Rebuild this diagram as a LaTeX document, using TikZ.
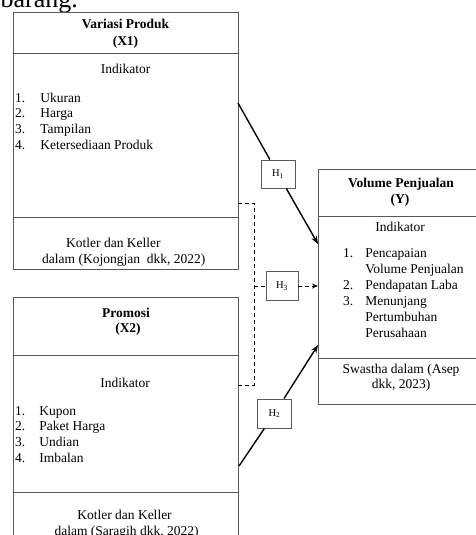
\documentclass[tikz,border=0pt]{standalone}
\usepackage{fontspec}
\setmainfont{Liberation Serif}
\usetikzlibrary{arrows.meta, positioning, calc}

\begin{document}
\begin{tikzpicture}[x=1pt, y=-1pt, >={Stealth[length=8pt, width=6pt]},
            box/.style={draw=black!65, line width=0.9pt, rectangle, inner sep=0pt, anchor=north west},
            hyp/.style={draw=black!65, fill=white, line width=0.9pt, rectangle, inner sep=0pt,
                minimum width=34pt, minimum height=28pt, font=\fontsize{10.5}{12}\selectfont},
            txt/.style={anchor=base, inner sep=0pt, font=\fontsize{13.5}{15.7}\selectfont},
            lst/.style={anchor=base west, inner sep=0pt, font=\fontsize{13.5}{15.7}\selectfont},
            arrow/.style={->, black, line width=1.4pt},
            dashline/.style={black, line width=1pt, dash pattern=on 4pt off 3pt}]

            \useasboundingbox (0,0) rectangle (476,535);

            % text of the page above the figure
            \node[anchor=base east, inner sep=0pt, font=\fontsize{26}{30}\selectfont] (page) at (78,8) {barang.};

            % boxes
            \node[box, minimum width=225pt, minimum height=257pt] (x1) at (13,12) {};
            \node[box, minimum width=225pt, minimum height=270pt] (x2) at (13,297) {};
            \node[box, minimum width=166pt, minimum height=235pt] (y) at (318,169) {};

            \draw[draw=black!65, line width=0.9pt] ($(x1.north west)+(0,41)$) -- ($(x1.north east)+(0,41)$);
            \draw[draw=black!65, line width=0.9pt] ($(x1.north west)+(0,205)$) -- ($(x1.north east)+(0,205)$);
            \draw[draw=black!65, line width=0.9pt] ($(x2.north west)+(0,58)$) -- ($(x2.north east)+(0,58)$);
            \draw[draw=black!65, line width=0.9pt] ($(x2.north west)+(0,195)$) -- ($(x2.north east)+(0,195)$);
            \draw[draw=black!65, line width=0.9pt] ($(y.north west)+(0,47)$) -- ($(y.north east)+(0,47)$);
            \draw[draw=black!65, line width=0.9pt] ($(y.north west)+(0,189)$) -- ($(y.north east)+(0,189)$);

            % Variasi Produk
            \node[txt] (x1name) at (125.5,29) {\textbf{Variasi Produk}};
            \node[txt] (x1var) at (125.5,46) {\textbf{(X1)}};
            \node[txt] (x1ind) at (125.5,74) {Indikator};
            \node[lst] (x1list) at (15,102) {\begin{tabular}[t]{@{}l@{\hspace{15pt}}l@{}}
                1. & Ukuran\\ 2. & Harga\\ 3. & Tampilan\\ 4. & Ketersediaan Produk
            \end{tabular}};
            \node[lst] (x1ref) at (66,247) {Kotler dan Keller};
            \node[lst] (x1ref2) at (42,263) {dalam (Kojongjan~ dkk, 2022)};

            % Promosi
            \node[txt] (x2name) at (126,317) {\textbf{Promosi}};
            \node[txt] (x2var) at (128,332) {\textbf{(X2)}};
            \node[txt] (x2ind) at (125,387) {Indikator};
            \node[lst] (x2list) at (15,415) {\begin{tabular}[t]{@{}l@{\hspace{14pt}}l@{}}
                1. & Kupon\\ 2. & Paket Harga\\ 3. & Undian\\ 4. & Imbalan
            \end{tabular}};
            \node[txt] (x2ref) at (124.5,519) {Kotler dan Keller};
            \node[txt] (x2ref2) at (126.5,535) {dalam (Saragih dkk, 2022)};

            % Volume Penjualan
            \node[txt] (yname) at (401,187) {\textbf{Volume Penjualan}};
            \node[txt] (yvar) at (400,203) {\textbf{(Y)}};
            \node[txt] (yind) at (400,231) {Indikator};
            \node[lst, font=\fontsize{13.5}{16}\selectfont] (ylist) at (343,257) {\begin{tabular}[t]{@{}l@{\hspace{12pt}}l@{}}
                1. & Pencapaian\\ & Volume Penjualan\\ 2. & Pendapatan Laba\\ 3. & Menunjang\\ & Pertumbuhan\\ & Perusahaan
            \end{tabular}};
            \node[txt] (yref) at (401,373) {Swastha dalam (Asep};
            \node[txt] (yref2) at (401,388) {dkk, 2023)};

            % hypotheses
            \coordinate (h1start) at (238,103);
            \coordinate (h1end) at (318,244);
            \coordinate (h2start) at (239,466);
            \coordinate (h2end) at (318,345);
            \coordinate (h3top) at (238,203);
            \coordinate (h3bot) at (238,385);
            \coordinate (h3mid) at (254,286);
            \coordinate (h3end) at (318,286);

            \node[hyp] (h1) at (278,174) {H\textsubscript{1}};
            \node[hyp, minimum width=32pt, minimum height=29pt] (h3) at (282,286) {H\textsubscript{3}};
            \node[hyp, minimum height=29pt] (h2) at (274.5,413.5) {H\textsubscript{2}};

            \draw[arrow] (h1start) -- (h1) -- (h1end);
            \draw[arrow] (h2start) -- (h2) -- (h2end);
            \draw[dashline] (h3top) -| (h3mid) |- (h3bot);
            \draw[dashline] (h3mid) -- (h3);
            \draw[dashline, -{Stealth[length=6pt, width=5pt]}] (h3) -- (h3end);
        \end{tikzpicture}
\end{document}
